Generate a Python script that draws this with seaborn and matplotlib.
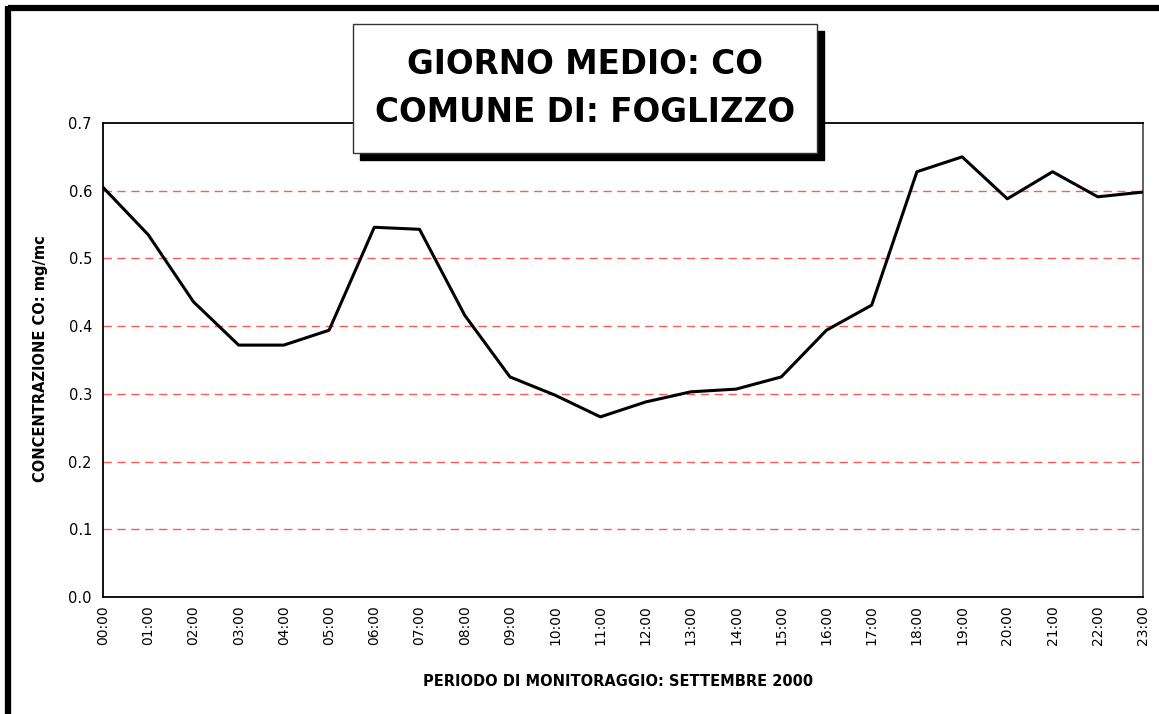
import matplotlib
matplotlib.use("Agg")
import matplotlib.pyplot as plt
import seaborn as sns
import pandas as pd
from matplotlib.patches import Rectangle
from matplotlib.lines import Line2D

hours = ["00:00", "01:00", "02:00", "03:00", "04:00", "05:00", "06:00", "07:00",
         "08:00", "09:00", "10:00", "11:00", "12:00", "13:00", "14:00", "15:00",
         "16:00", "17:00", "18:00", "19:00", "20:00", "21:00", "22:00", "23:00"]
co_values = [0.605, 0.535, 0.436, 0.372, 0.372, 0.394, 0.546, 0.543,
             0.416, 0.325, 0.298, 0.266, 0.288, 0.303, 0.307, 0.325,
             0.394, 0.431, 0.628, 0.650, 0.588, 0.628, 0.591, 0.598]
y_ticks = [0.0, 0.1, 0.2, 0.3, 0.4, 0.5, 0.6, 0.7]
title_lines = ["GIORNO MEDIO: CO", "COMUNE DI: FOGLIZZO"]
x_label = "PERIODO DI MONITORAGGIO: SETTEMBRE 2000"
y_label = "CONCENTRAZIONE CO: mg/mc"

sns.set_style("white")
plt.rcParams['font.family'] = ['DejaVu Sans']
plt.rcParams['text.color'] = 'black'
plt.rcParams['axes.labelcolor'] = 'black'
plt.rcParams['xtick.color'] = 'black'
plt.rcParams['ytick.color'] = 'black'

df = pd.DataFrame({"idx": range(len(hours)), "ora": hours, "co": co_values})

W, H = 1159, 714
fig = plt.figure(figsize=(W / 100, H / 100), dpi=100)
ax = fig.add_axes([103 / W, 1 - 597 / H, (1143 - 103) / W, (597 - 123) / H])

for v in y_ticks[1:-1]:
    ax.axhline(v, color="#ff3030", lw=1.0, ls=(0, (6, 4)), alpha=0.8, zorder=1)

sns.lineplot(data=df, x="idx", y="co", ax=ax, color="black", lw=2.2, zorder=3)

ax.set_xlim(0, len(hours) - 1)
ax.set_ylim(0, 0.7)
ax.set_yticks(y_ticks)
ax.set_yticklabels([f"{v:.1f}" for v in y_ticks], fontsize=10.5)
ax.set_xticks(range(len(hours)))
ax.set_xticklabels(hours, rotation=90, fontsize=10)
ax.tick_params(axis="y", direction="out", length=5, width=1, color="black", pad=3)
ax.tick_params(axis="x", length=0, pad=6)
ax.set_xlabel("")
ax.set_ylabel("")
for s in ["left", "bottom", "top"]:
    ax.spines[s].set_color("black")
    ax.spines[s].set_linewidth(1.3)
ax.spines["right"].set_color("#555555")
ax.spines["right"].set_linewidth(1.3)

fig.text(618 / W, 1 - 682 / H, x_label, ha="center", va="center",
         fontsize=10.5, fontweight="bold")
fig.text(41 / W, 1 - 359 / H, y_label, ha="center", va="center",
         rotation=90, fontsize=10.5, fontweight="bold")

# frame on top and left of the figure
fig.add_artist(Line2D([8 / W, 1], [1 - 8 / H, 1 - 8 / H], color="black", lw=4.5,
                      transform=fig.transFigure, solid_capstyle="butt"))
fig.add_artist(Line2D([8 / W, 8 / W], [1 - 6 / H, 0], color="black", lw=4.5,
                      transform=fig.transFigure, solid_capstyle="butt"))

# title box with shadow
bx0, by0, bx1, by1 = 353, 24, 817, 153
sh = 7
fig.add_artist(Rectangle(((bx0 + sh) / W, 1 - (by1 + sh) / H), (bx1 - bx0) / W, (by1 - by0) / H,
                         transform=fig.transFigure, facecolor="black", edgecolor="black", zorder=10))
fig.add_artist(Rectangle((bx0 / W, 1 - by1 / H), (bx1 - bx0) / W, (by1 - by0) / H,
                         transform=fig.transFigure, facecolor="white", edgecolor="#333333",
                         lw=1.0, zorder=11))
fig.text((bx0 + bx1) / 2 / W, 1 - 65 / H, title_lines[0], ha="center", va="center",
         fontsize=23.5, fontweight="bold", zorder=12)
fig.text((bx0 + bx1) / 2 / W, 1 - 113 / H, title_lines[1], ha="center", va="center",
         fontsize=23.5, fontweight="bold", zorder=12)

fig.savefig("out.png", dpi=100, facecolor="white")
